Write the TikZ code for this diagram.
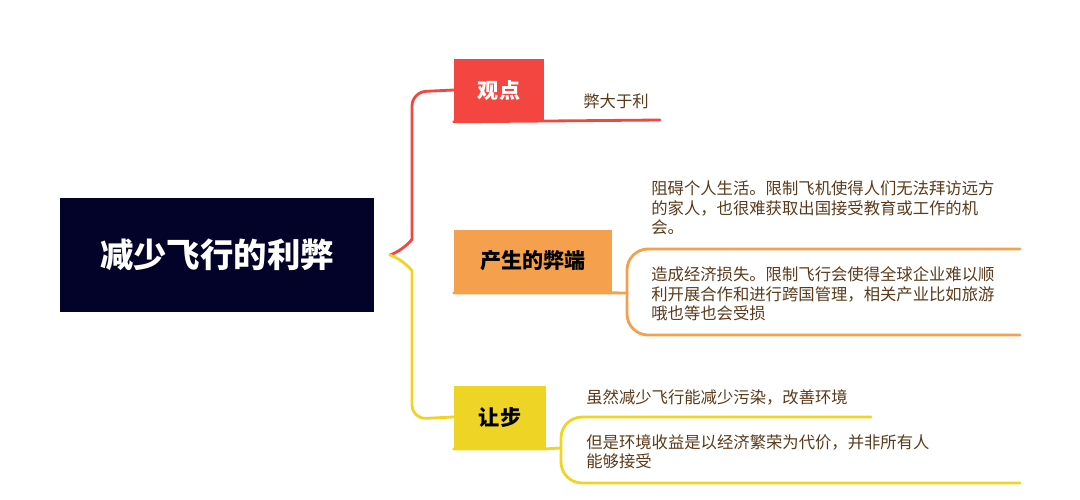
\documentclass[tikz,border=0pt]{standalone}
\usepackage{fontspec}
\setmainfont{Noto Sans CJK SC}
\usetikzlibrary{positioning,calc}
\definecolor{rootblue}{HTML}{03032A}
\definecolor{redbr}{HTML}{F44640}
\definecolor{orangebr}{HTML}{F5A04C}
\definecolor{yellowbr}{HTML}{EED424}
\definecolor{txtbrown}{HTML}{5A3A1A}
\tikzstyle{topic} = [fill=rootblue,text=white,font=\fontsize{19}{22}\selectfont\bfseries,minimum width=6.3cm,minimum height=2.3cm,inner sep=0pt]
\tikzstyle{branch} = [font=\fontsize{12}{14}\selectfont\bfseries,minimum height=1.26cm,inner sep=0pt]
\tikzstyle{leaf} = [text=txtbrown,font=\fontsize{9.3}{11}\selectfont,anchor=west,align=left,inner sep=0pt]
\tikzstyle{link} = [line width=1.6pt,line cap=round,rounded corners=8pt]
\begin{document}
\begin{tikzpicture}[x=0.02cm,y=-0.02cm]
                  \useasboundingbox (0,0) rectangle (1080,500);
                  \node (root)[topic] at (217,255) {减少飞行的利弊};
                  \node (view)[branch,fill=redbr,text=white,minimum width=1.8cm] at (499,90) {观点};
                  \node (harm)[branch,fill=orangebr,minimum width=3.16cm] at (533,261) {产生的弊端};
                  \node (yield)[branch,fill=yellowbr,minimum width=1.84cm] at (500,417) {让步};

                  \node (v1)[leaf] at (583,101) {弊大于利};
                  \node (h1)[leaf] at (651,208) {阻碍个人生活。限制飞机使得人们无法拜访远方\\的家人，也很难获取出国接受教育或工作的机\\会。};
                  \node (h2)[leaf] at (651,294) {造成经济损失。限制飞行会使得全球企业难以顺\\利开展合作和进行跨国管理，相关产业比如旅游\\哦也等也会受损};
                  \node (y1)[leaf] at (586,397) {虽然减少飞行能减少污染，改善环境};
                  \node (y2)[leaf] at (586,452) {但是环境收益是以经济繁荣为代价，并非所有人\\能够接受};

                  \coordinate (jn) at (390,255);
                  \coordinate (vend) at (660,120);
                  \coordinate (htop) at (1020,249);
                  \coordinate (hbot) at (1020,335);
                  \coordinate (ytop) at (871,417);
                  \coordinate (ybot) at (1020,483);

                  \draw[link,redbr] (jn) to[out=20,in=-90] (412,225) -- (412,92) -- (view.west);
                  \draw[link,yellowbr] (jn) to[out=-20,in=90] (412,285) -- (412,419) -- (yield.west);
                  \draw[link,redbr,rounded corners=0pt] (view.south west) -- (vend);
                  \draw[link,orangebr,rounded corners=0pt] (harm.south west) -- (harm.south east) -- (627,293);
                  \draw[link,orangebr,rounded corners=12pt] (htop) -- (627,249) -- (627,335) -- (hbot);
                  \draw[link,yellowbr,rounded corners=0pt] (yield.south west) -- (yield.south east) -- (561,448);
                  \draw[link,yellowbr,rounded corners=12pt] (ytop) -- (561,417) -- (561,483) -- (ybot);
            \end{tikzpicture}
\end{document}
